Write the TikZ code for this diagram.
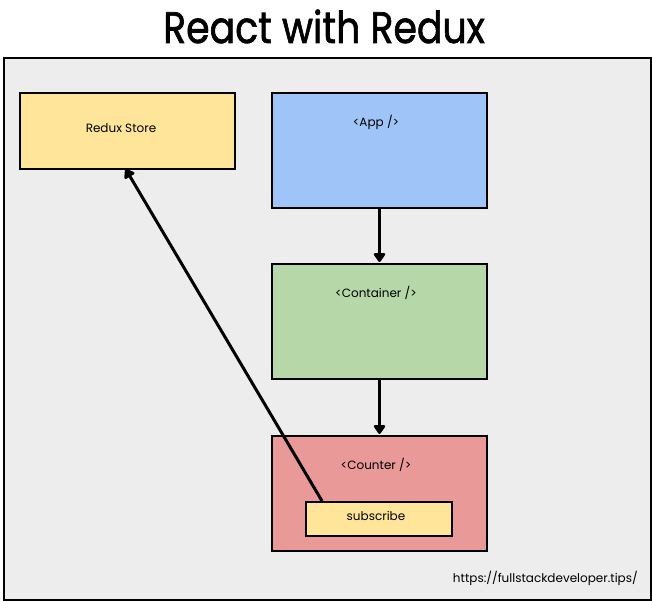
\documentclass[tikz,border=0pt]{standalone}
\usepackage{fontspec}
\setmainfont{Poppins}
\newfontfamily\titlefont[FakeBold=1.6]{Poppins}
\usetikzlibrary{arrows.meta}
\definecolor{bgc}{HTML}{EDEDED}
\definecolor{yel}{HTML}{FFE599}
\definecolor{blu}{HTML}{9FC5F8}
\definecolor{grn}{HTML}{B6D7A8}
\definecolor{red}{HTML}{EA9999}
\tikzset{
  box/.style={draw=black, line width=2pt, inner sep=0pt, anchor=north west},
  lbl/.style={font=\fontsize{12}{14}\selectfont, inner sep=0pt},
  arr/.style={draw=black, line width=3pt, -{Triangle[length=10pt,width=13pt,round]}, shorten >=1pt},
}
\begin{document}
\begin{tikzpicture}[x=1pt,y=-1pt]
\useasboundingbox (0,0) rectangle (652,601);
\node[inner sep=0pt, anchor=base, font=\titlefont\fontsize{44}{48}\selectfont] (title) at (324,43) {\scalebox{0.86}[1]{React with Redux}};
\node[box, fill=bgc, minimum width=647pt, minimum height=541pt] (frame) at (2.5,57.5) {};
\node[box, fill=yel, minimum width=215pt, minimum height=76pt] (store) at (19,92) {};
\node[box, fill=blu, minimum width=215pt, minimum height=115pt] (app) at (271,92) {};
\node[box, fill=grn, minimum width=215pt, minimum height=115pt] (cont) at (271,263) {};
\node[box, fill=red, minimum width=215pt, minimum height=115pt] (count) at (271,435) {};
\node[box, fill=yel, minimum width=146pt, minimum height=34pt] (sub) at (305,501) {};
\node[lbl] (tstore) at (121,128) {Redux Store};
\node[lbl] (tapp) at (376,122) {<App />};
\node[lbl] (tcont) at (376,293) {<Container />};
\node[lbl] (tcount) at (376,465) {<Counter />};
\node[lbl] (tsub) at (376,516) {subscribe};
\node[lbl, anchor=east] (url) at (638,578) {https://fullstackdeveloper.tips/};
\coordinate (s1) at (322,501);
\coordinate (s2) at (125,168);
\draw[arr] (app.south) -- (cont.north);
\draw[arr] (cont.south) -- (count.north);
\draw[arr] (s1) -- (s2);
\end{tikzpicture}
\end{document}
